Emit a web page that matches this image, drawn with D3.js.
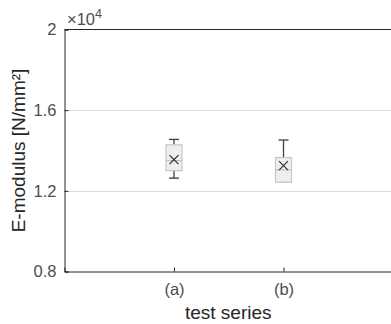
<!DOCTYPE html>
<html>
<head>
<meta charset="utf-8">
<script src="https://cdn.jsdelivr.net/npm/d3@7"></script>
<style>
  body { margin: 0; background: #fff; }
  text { font-family: "Liberation Sans", Arial, sans-serif; }
</style>
</head>
<body>
<svg id="chart" width="391" height="324"></svg>
<script>
// data (values in units of 10^4 N/mm^2)
var series = ["(a)", "(b)"];
var whiskerLow = [1.263, 1.243];
var q1 = [1.300, 1.243];
var median = [1.350, 1.304];
var q3 = [1.428, 1.365];
var whiskerHigh = [1.455, 1.452];
var means = [1.355, 1.325];
var yTicks = [0.8, 1.2, 1.6, 2];

var svg = d3.select("#chart");
var plotL = 64.5, plotT = 29.5, plotB = 271.5, plotR = 393;

var x = d3.scaleLinear().domain([0, 3]).range([plotL, plotR]);
var y = d3.scaleLinear().domain([0.8, 2]).range([plotB, plotT]);

// grid lines
svg.append("g").selectAll("line")
	.data([1.2, 1.6])
	.enter().append("line")
	.attr("x1", plotL).attr("x2", plotR)
	.attr("y1", function(d) { return Math.round(y(d)) + 0.5; })
	.attr("y2", function(d) { return Math.round(y(d)) + 0.5; })
	.attr("stroke", "#dcdcdc")
	.attr("stroke-width", 1);

// y axis (ticks pointing inward)
var yAxis = d3.axisRight(y).tickValues(yTicks).tickSize(4)
	.tickFormat(function(d) { return d === 2 ? "2" : d3.format(".1f")(d); });
var gy = svg.append("g").attr("transform", "translate(" + plotL + ",0)").call(yAxis);
gy.select(".domain").attr("stroke", "#262626");
gy.selectAll(".tick line").attr("stroke", "#262626");
gy.selectAll(".tick text")
	.attr("x", -8)
	.attr("text-anchor", "end")
	.style("font-size", "16.5px")
	.attr("fill", "#4d4d4d");

// x axis (ticks pointing inward)
var xAxis = d3.axisTop(x).tickValues([1, 2]).tickSize(4)
	.tickFormat(function(d) { return series[d - 1]; });
var gx = svg.append("g").attr("transform", "translate(0," + plotB + ")").call(xAxis);
gx.select(".domain").attr("stroke", "#262626");
gx.selectAll(".tick line").attr("stroke", "#262626");
gx.selectAll(".tick text")
	.attr("y", 23)
	.attr("dy", 0)
	.style("font-size", "16.5px")
	.attr("fill", "#4d4d4d");

// top border
svg.append("line")
	.attr("x1", plotL).attr("x2", plotR)
	.attr("y1", plotT).attr("y2", plotT)
	.attr("stroke", "#262626");

// exponent label
var ex = svg.append("text")
	.attr("x", 67).attr("y", 25)
	.style("font-size", "16.5px")
	.attr("fill", "#4d4d4d");
ex.append("tspan").text("\u00d710");
ex.append("tspan").attr("dy", -7).style("font-size", "12.5px").text("4");

// axis titles
svg.append("text")
	.attr("x", (plotL + plotR) / 2 - 0.5).attr("y", 319)
	.attr("text-anchor", "middle")
	.style("font-size", "19px")
	.attr("fill", "#262626")
	.text("test series");

svg.append("text")
	.attr("transform", "translate(25," + ((plotT + plotB) / 2) + ") rotate(-90)")
	.attr("text-anchor", "middle")
	.style("font-size", "19px")
	.attr("fill", "#262626")
	.text("E-modulus [N/mm\u00b2]");

// boxes
var bw = 16, cw = 10;
var boxes = svg.append("g").selectAll("g")
	.data(series)
	.enter().append("g");

boxes.append("line")
	.attr("x1", function(d, i) { return x(i + 1); })
	.attr("x2", function(d, i) { return x(i + 1); })
	.attr("y1", function(d, i) { return y(q3[i]); })
	.attr("y2", function(d, i) { return y(whiskerHigh[i]); })
	.attr("stroke", "#404040").attr("stroke-width", 1.3);
boxes.append("line")
	.attr("x1", function(d, i) { return x(i + 1); })
	.attr("x2", function(d, i) { return x(i + 1); })
	.attr("y1", function(d, i) { return y(q1[i]); })
	.attr("y2", function(d, i) { return y(whiskerLow[i]); })
	.attr("stroke", "#404040").attr("stroke-width", 1.3);
// caps
boxes.append("line")
	.attr("x1", function(d, i) { return x(i + 1) - cw / 2; })
	.attr("x2", function(d, i) { return x(i + 1) + cw / 2; })
	.attr("y1", function(d, i) { return y(whiskerHigh[i]); })
	.attr("y2", function(d, i) { return y(whiskerHigh[i]); })
	.attr("stroke", "#404040").attr("stroke-width", 1.3);
boxes.append("line")
	.attr("x1", function(d, i) { return x(i + 1) - cw / 2; })
	.attr("x2", function(d, i) { return x(i + 1) + cw / 2; })
	.attr("y1", function(d, i) { return y(whiskerLow[i]); })
	.attr("y2", function(d, i) { return y(whiskerLow[i]); })
	.attr("stroke", function(d, i) { return whiskerLow[i] === q1[i] ? "#d8d8d8" : "#404040"; })
	.attr("stroke-width", 1.3);

boxes.append("rect")
	.attr("x", function(d, i) { return x(i + 1) - bw / 2; })
	.attr("width", bw)
	.attr("y", function(d, i) { return y(q3[i]); })
	.attr("height", function(d, i) { return y(q1[i]) - y(q3[i]); })
	.attr("fill", "#efefef")
	.attr("stroke", "#c6c6c6")
	.attr("stroke-width", 1.2);

boxes.append("line")
	.attr("x1", function(d, i) { return x(i + 1) - bw / 2; })
	.attr("x2", function(d, i) { return x(i + 1) + bw / 2; })
	.attr("y1", function(d, i) { return y(median[i]); })
	.attr("y2", function(d, i) { return y(median[i]); })
	.attr("stroke", "#c0c0c0").attr("stroke-width", 1.2);

// mean markers
var m = 4.5;
boxes.append("path")
	.attr("d", function(d, i) {
		var cx = x(i + 1), cy = y(means[i]);
		return "M" + (cx - m) + "," + (cy - m) + "L" + (cx + m) + "," + (cy + m) +
			"M" + (cx - m) + "," + (cy + m) + "L" + (cx + m) + "," + (cy - m);
	})
	.attr("stroke", "#303030").attr("stroke-width", 1.2).attr("fill", "none");
</script>
</body>
</html>
